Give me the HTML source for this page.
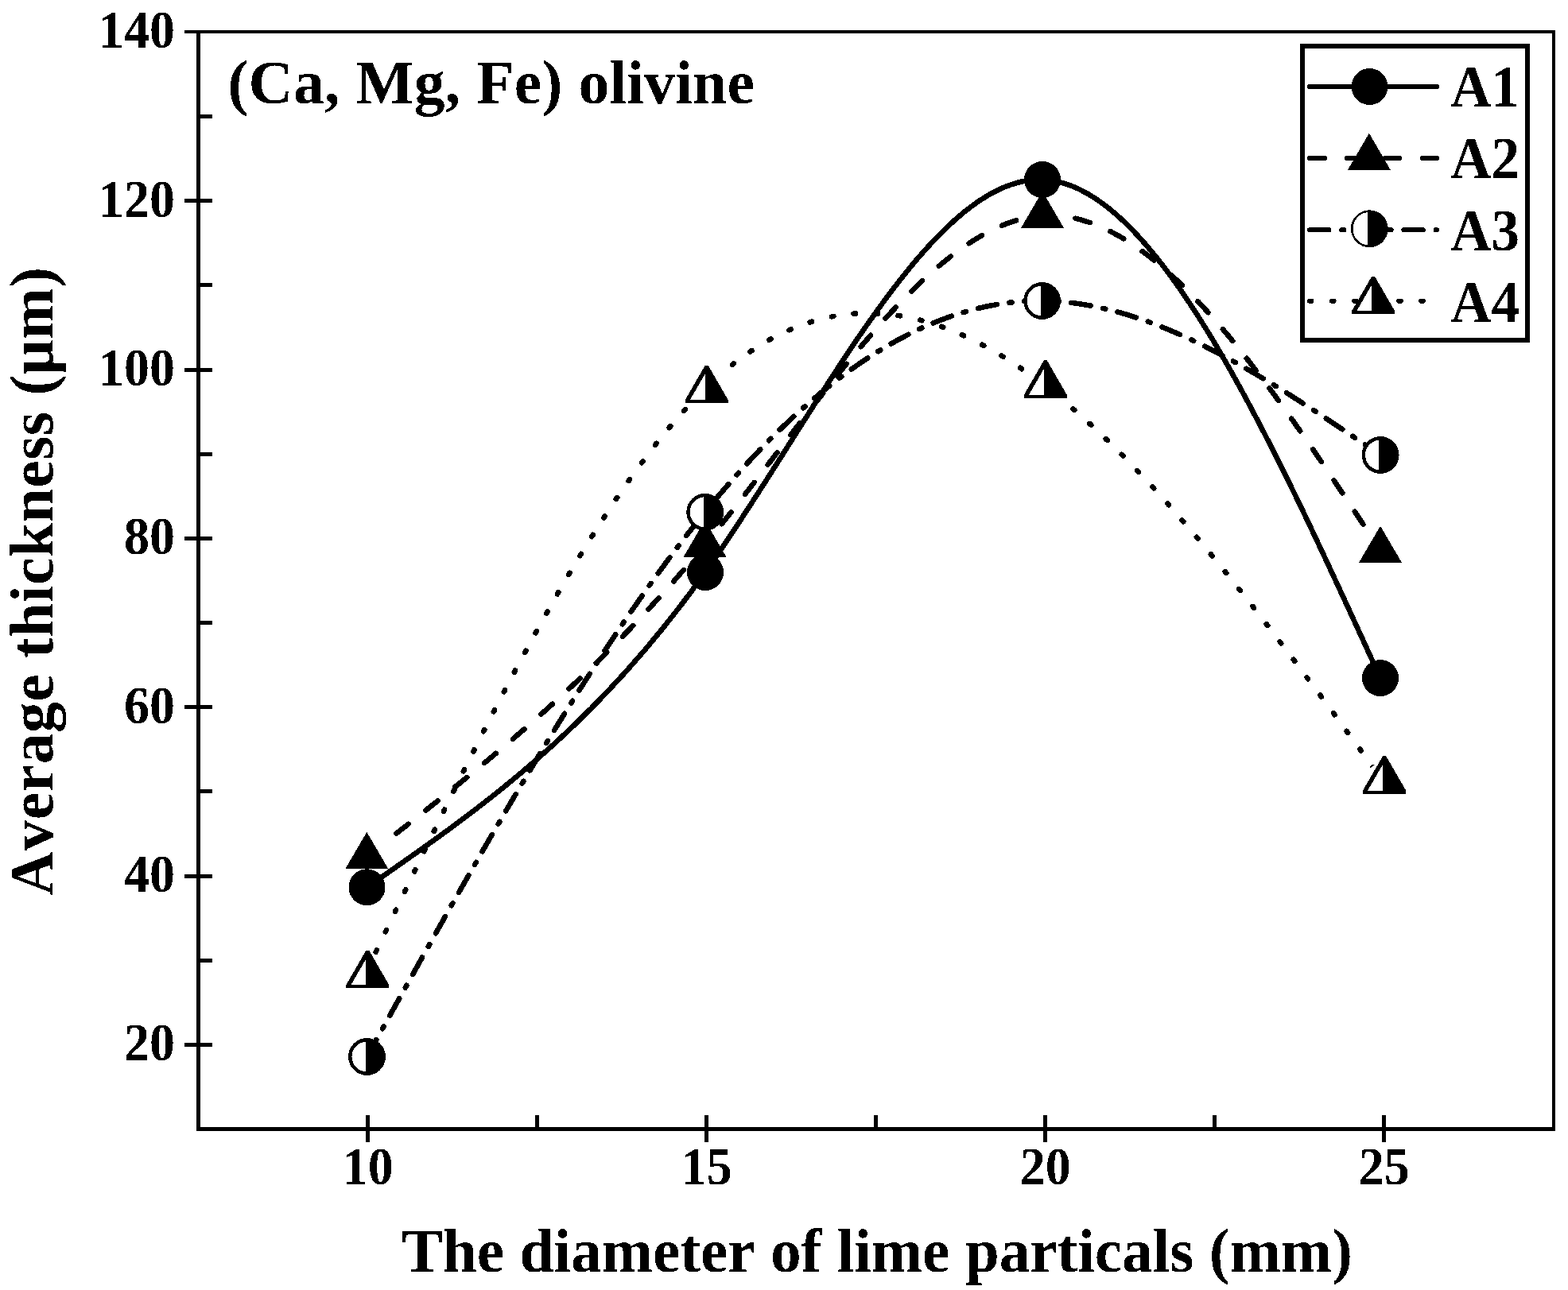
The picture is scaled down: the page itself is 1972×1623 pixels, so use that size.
<!DOCTYPE html>
<html lang="en">
<head>
<meta charset="utf-8">
<title>(Ca, Mg, Fe) olivine: average thickness vs. diameter of lime particals</title>
<style>
html,body{margin:0;padding:0;background:#fff;}
body{width:1972px;height:1623px;overflow:hidden;}
svg{display:block;}
</style>
</head>
<body>
<svg width="1972" height="1623" viewBox="0 0 1972 1623" role="img" aria-label="Average thickness of (Ca, Mg, Fe) olivine versus the diameter of lime particals for samples A1 to A4">
<rect x="0" y="0" width="1972" height="1623" fill="#fff"/>
<defs>
<filter id="bin" filterUnits="userSpaceOnUse" x="0" y="0" width="1972" height="1623" color-interpolation-filters="sRGB"><feComponentTransfer><feFuncA type="discrete" tableValues="0 1"/></feComponentTransfer></filter>
<mask id="gapA2" maskUnits="userSpaceOnUse" x="0" y="0" width="1972" height="1623">
<rect x="0" y="0" width="1972" height="1623" fill="#fff"/>
<circle cx="461.3" cy="1077.5" r="23" fill="#000"/>
<circle cx="886.5" cy="685.3" r="23" fill="#000"/>
<circle cx="1311" cy="271.3" r="23" fill="#000"/>
<circle cx="1736" cy="692.4" r="23" fill="#000"/>
</mask>
<mask id="gapA4" maskUnits="userSpaceOnUse" x="0" y="0" width="1972" height="1623">
<rect x="0" y="0" width="1972" height="1623" fill="#fff"/>
<circle cx="462.3" cy="1226.4" r="23" fill="#000"/>
<circle cx="888.7" cy="490.3" r="23" fill="#000"/>
<circle cx="1314.8" cy="484.0" r="23" fill="#000"/>
<circle cx="1741.1" cy="981.6" r="23" fill="#000"/>
</mask>
</defs>
<g fill="#000" shape-rendering="crispEdges">
<rect x="247" y="38" width="1709" height="4"/>
<rect x="247" y="1418" width="1709" height="5"/>
<rect x="247" y="38" width="5" height="1385"/>
<rect x="1952" y="38" width="4" height="1385"/>
<rect x="232" y="1312" width="35" height="5"/>
<rect x="252" y="1206" width="15" height="5"/>
<rect x="232" y="1100" width="35" height="5"/>
<rect x="252" y="993" width="15" height="5"/>
<rect x="232" y="887" width="35" height="5"/>
<rect x="252" y="781" width="15" height="5"/>
<rect x="232" y="675" width="35" height="5"/>
<rect x="252" y="569" width="15" height="5"/>
<rect x="232" y="463" width="35" height="5"/>
<rect x="252" y="356" width="15" height="5"/>
<rect x="232" y="250" width="35" height="5"/>
<rect x="252" y="144" width="15" height="5"/>
<rect x="232" y="38" width="15" height="4"/>
<rect x="460" y="1403" width="5" height="34"/>
<rect x="673" y="1403" width="5" height="15"/>
<rect x="886" y="1403" width="5" height="34"/>
<rect x="1099" y="1403" width="5" height="15"/>
<rect x="1312" y="1403" width="5" height="34"/>
<rect x="1525" y="1403" width="5" height="15"/>
<rect x="1738" y="1403" width="5" height="34"/>
</g>
<g font-family='"Liberation Serif", "DejaVu Serif", serif' font-weight="bold" fill="#000" style="font-kerning:none" filter="url(#bin)">
<text transform="translate(220 1334.1) scale(1.0 1.065)" font-size="64" text-anchor="end">20</text>
<text transform="translate(220 1121.8) scale(1.0 1.065)" font-size="64" text-anchor="end">40</text>
<text transform="translate(220 909.5) scale(1.0 1.065)" font-size="64" text-anchor="end">60</text>
<text transform="translate(220 697.2) scale(1.0 1.065)" font-size="64" text-anchor="end">80</text>
<text transform="translate(220 484.9) scale(1.0 1.065)" font-size="64" text-anchor="end">100</text>
<text transform="translate(220 272.6) scale(1.0 1.065)" font-size="64" text-anchor="end">120</text>
<text transform="translate(220 60.3) scale(1.0 1.065)" font-size="64" text-anchor="end">140</text>
<text transform="translate(462.8 1490) scale(1.0 1.065)" font-size="64" text-anchor="middle">10</text>
<text transform="translate(888.8 1490) scale(1.0 1.065)" font-size="64" text-anchor="middle">15</text>
<text transform="translate(1314.8 1490) scale(1.0 1.065)" font-size="64" text-anchor="middle">20</text>
<text transform="translate(1740.8 1490) scale(1.0 1.065)" font-size="64" text-anchor="middle">25</text>
<text transform="translate(286.5 130.2)" font-size="77.5" text-anchor="start" letter-spacing="0.31">(Ca, Mg, Fe) olivine</text>
<text transform="translate(505.3 1599.5)" font-size="77.3" text-anchor="start">The diameter of lime particals (mm)</text>
<text transform="translate(66.5 1127) rotate(-90)" font-size="77.5" text-anchor="start" letter-spacing="0.53">Average thickness (μm)</text>
</g>
<g fill="none" stroke="#000" stroke-width="6.6" stroke-linecap="round" stroke-linejoin="round" shape-rendering="crispEdges">
<path d="M461.5 1116.3 C603.3 1018.0 745.2 919.8 887.0 720.0 C1028.3 520.9 1169.7 221.1 1311.0 226.0 C1452.7 230.9 1594.3 542.0 1736.0 853.1"/>
<g mask="url(#gapA2)"><path d="M461.3 1077.5 C603.0 967.3 744.8 857.2 886.5 685.3 C1028.0 513.7 1169.5 280.5 1311.0 271.3 C1452.7 262.0 1594.3 477.2 1736.0 692.4" stroke-dasharray="19 28.2"/></g>
<path d="M461.5 1329.5 C603.2 1074.1 745.0 818.6 886.7 644.3 C1028.0 470.5 1169.3 377.3 1310.6 378.5 C1452.4 379.7 1594.3 476.1 1736.1 572.5" stroke-dasharray="24.5 15.745 3.2 15.745"/>
<g mask="url(#gapA4)"><path d="M462.3 1219.6 C604.5 921.4 746.7 623.3 888.9 487.0 C1030.9 350.9 1172.8 376.2 1314.8 485.9 C1456.9 595.7 1599.0 790.2 1741.1 984.7" stroke-dasharray="2.5 25.55" stroke-dashoffset="3.8"/></g>
</g>
<g fill="#000" shape-rendering="crispEdges">
<circle cx="461.5" cy="1116.3" r="23"/>
<circle cx="887" cy="720" r="23"/>
<circle cx="1311" cy="226" r="23"/>
<circle cx="1736" cy="853.1" r="23"/>
<path d="M461.3 1046.8L488.3 1093.0L434.3 1093.0Z"/>
<path d="M886.5 654.6L913.5 700.8L859.5 700.8Z"/>
<path d="M1311 240.6L1338 286.8L1284 286.8Z"/>
<path d="M1736 661.7L1763 707.9L1709 707.9Z"/>
<circle cx="461.5" cy="1329.5" r="21.2" fill="#fff" stroke="#000" stroke-width="4.4"/><path d="M459.50 1306.19A23.4 23.4 0 1 1 459.50 1352.81Z"/>
<circle cx="886.7" cy="644.3" r="21.2" fill="#fff" stroke="#000" stroke-width="4.4"/><path d="M884.70 620.99A23.4 23.4 0 1 1 884.70 667.61Z"/>
<circle cx="1310.6" cy="378.5" r="21.2" fill="#fff" stroke="#000" stroke-width="4.4"/><path d="M1308.60 355.19A23.4 23.4 0 1 1 1308.60 401.81Z"/>
<circle cx="1736.1" cy="572.5" r="21.2" fill="#fff" stroke="#000" stroke-width="4.4"/><path d="M1734.10 549.19A23.4 23.4 0 1 1 1734.10 595.81Z"/>
<polygon points="460.35,1195.85 464.25,1195.85 489.45,1239.45 489.45,1243.35 435.15,1243.35 435.15,1239.45"/><polygon points="460.35,1239.45 441.30,1239.45 460.35,1206.50" fill="#fff"/>
<polygon points="886.75,459.75 890.65,459.75 915.85,503.35 915.85,507.25 861.55,507.25 861.55,503.35"/><polygon points="886.75,503.35 867.70,503.35 886.75,470.40" fill="#fff"/>
<polygon points="1312.85,453.45 1316.75,453.45 1341.95,497.05 1341.95,500.95 1287.65,500.95 1287.65,497.05"/><polygon points="1312.85,497.05 1293.80,497.05 1312.85,464.10" fill="#fff"/>
<polygon points="1739.15,951.05 1743.05,951.05 1768.25,994.65 1768.25,998.55 1713.95,998.55 1713.95,994.65"/><polygon points="1739.15,994.65 1720.10,994.65 1739.15,961.70" fill="#fff"/>
</g>
<g shape-rendering="crispEdges">
<rect x="1638" y="58" width="283" height="370" fill="#fff" stroke="#000" stroke-width="6"/>
<g fill="none" stroke="#000" stroke-width="6" stroke-linecap="round">
<path d="M1647 109L1807 109"/>
<path d="M1647 199L1807 199" stroke-dasharray="19 28.2"/>
<path d="M1647 289.3L1807 289.3" stroke-dasharray="24.5 15.745 3.2 15.745"/>
<path d="M1647 378.8L1807 378.8" stroke-dasharray="2.5 25.55"/>
</g>
<g fill="#000">
<circle cx="1722.5" cy="109" r="23"/>
<path d="M1721.9 167.7L1748.9 213.9L1694.9 213.9Z"/>
<circle cx="1722.3" cy="287.8" r="22.099999999999998" fill="#fff" stroke="#000" stroke-width="2.6"/><path d="M1720.30 264.49A23.4 23.4 0 1 1 1720.30 311.11Z"/>
<polygon points="1725.15,347.85 1729.05,347.85 1754.25,391.45 1754.25,395.35 1699.95,395.35 1699.95,391.45"/><polygon points="1725.15,391.45 1706.10,391.45 1725.15,358.50" fill="#fff"/>
</g>
</g>
<g font-family='"Liberation Serif", "DejaVu Serif", serif' font-weight="bold" fill="#000" style="font-kerning:none" filter="url(#bin)">
<text transform="translate(1824.2 134) scale(1.0 1.05)" font-size="71" text-anchor="start">A1</text>
<text transform="translate(1824.2 224) scale(1.0 1.05)" font-size="71" text-anchor="start">A2</text>
<text transform="translate(1824.2 314.5) scale(1.0 1.05)" font-size="71" text-anchor="start">A3</text>
<text transform="translate(1824.2 405) scale(1.0 1.05)" font-size="71" text-anchor="start">A4</text>
</g>
</svg>
</body>
</html>
